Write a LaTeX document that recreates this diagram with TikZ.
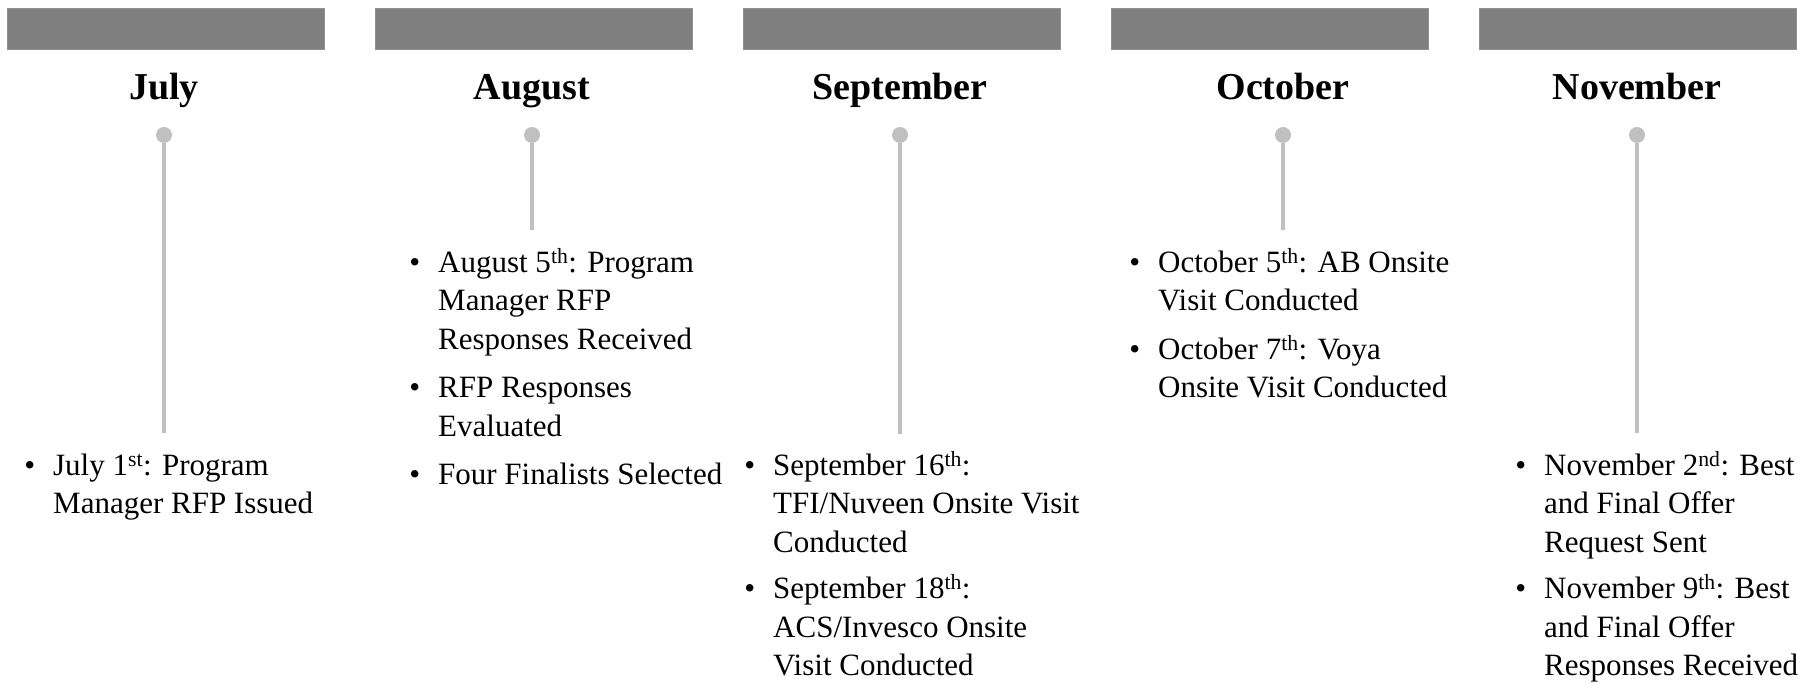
\documentclass[tikz,border=0pt]{standalone}
\usepackage{fontspec}
\setmainfont{Liberation Serif}

\definecolor{bargray}{RGB}{127,127,127}
\definecolor{stemgray}{RGB}{192,192,192}
\newcommand{\bul}{\strut\llap{\textbullet\hspace{18pt}}}

\begin{document}
\begin{tikzpicture}[x=1pt,y=-1pt,
    monthbar/.style={fill=bargray, draw=bargray!85!white, line width=1pt, minimum width=317pt, minimum height=41pt, anchor=north west, inner sep=0},
    monthname/.style={font=\fontsize{38}{44}\selectfont\bfseries, anchor=base, inner sep=0},
    monthdot/.style={circle, fill=stemgray, minimum size=16pt, inner sep=0},
    stem/.style={draw=stemgray, line width=3.2pt},
    events/.style={font=\fontsize{31}{38.5}\selectfont, align=left, anchor=north west, inner sep=0}]
            \useasboundingbox (0,0) rectangle (1815,684);

            % July
            \node[monthbar] (julbar) at (6.5,8.5) {};
            \node[monthname] (jul) at (164,100) {July};
            \node[monthdot] (juldot) at (164,135) {};
            \coordinate (julend) at (164,433);
            \draw[stem] (juldot) -- (julend);
            \node[events] (julev) at (53,448) {\bul July 1\textsuperscript{st}: Program\\Manager RFP Issued};

            % August
            \node[monthbar] (augbar) at (374.5,8.5) {};
            \node[monthname] (aug) at (532,100) {August};
            \node[monthdot] (augdot) at (532,135) {};
            \coordinate (augend) at (532,230);
            \draw[stem] (augdot) -- (augend);
            \node[events] (augev) at (438,245) {\bul August 5\textsuperscript{th}: Program\\Manager RFP\\Responses Received\\[10pt]
                \bul RFP Responses\\Evaluated\\[10pt]
                \bul Four Finalists Selected};

            % September
            \node[monthbar] (sepbar) at (742.5,8.5) {};
            \node[monthname] (sep) at (900,100) {September};
            \node[monthdot] (sepdot) at (900,135) {};
            \coordinate (sepend) at (900,434);
            \draw[stem] (sepdot) -- (sepend);
            \node[events] (sepev) at (773,448) {\bul September 16\textsuperscript{th}:\\TFI/Nuveen Onsite Visit\\Conducted\\[8pt]
                \bul September 18\textsuperscript{th}:\\ACS/Invesco Onsite\\Visit Conducted};

            % October
            \node[monthbar] (octbar) at (1110.5,8.5) {};
            \node[monthname] (oct) at (1283,100) {October};
            \node[monthdot] (octdot) at (1283,135) {};
            \coordinate (octend) at (1283,230);
            \draw[stem] (octdot) -- (octend);
            \node[events] (octev) at (1158,245) {\bul October 5\textsuperscript{th}: AB Onsite\\Visit Conducted\\[10pt]
                \bul October 7\textsuperscript{th}: Voya\\Onsite Visit Conducted};

            % November
            \node[monthbar] (novbar) at (1478.5,8.5) {};
            \node[monthname] (nov) at (1637,100) {November};
            \node[monthdot] (novdot) at (1637,135) {};
            \coordinate (novend) at (1637,433);
            \draw[stem] (novdot) -- (novend);
            \node[events] (novev) at (1544,448) {\bul November 2\textsuperscript{nd}: Best\\and Final Offer\\Request Sent\\[8pt]
                \bul November 9\textsuperscript{th}: Best\\and Final Offer\\Responses Received};
        \end{tikzpicture}
\end{document}
